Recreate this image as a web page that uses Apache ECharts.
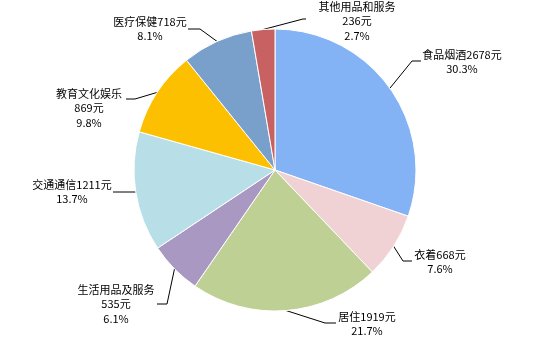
<!DOCTYPE html>
<html>
<head>
<meta charset="utf-8">
<script src="https://cdn.jsdelivr.net/npm/echarts@6/dist/echarts.min.js"></script>
<style>
  html, body { margin: 0; padding: 0; background: #fff; }
  #chart { width: 554px; height: 343px; }
</style>
</head>
<body>
<div id="chart"></div>
<script>
// Per-capita consumption spending by category (yuan)
const categories = ['食品烟酒', '衣着', '居住', '生活用品及服务', '交通通信', '教育文化娱乐', '医疗保健', '其他用品和服务'];
const amounts = [2678, 668, 1919, 535, 1211, 869, 718, 236];
const colors = ['#83b3f5', '#f0d2d4', '#bed093', '#a998c2', '#b8dfe7', '#fdc000', '#799fcb', '#c86262'];

// Whether the amount sits on the same line as the name
const nameInline = [true, true, true, false, true, false, true, false];

// Label placement: text centre, leader-line elbow and leader-line end (px)
const labelCentre = [[462, 62], [440, 262], [367, 324], [116, 304], [72, 192], [89, 108], [150, 29], [357, 21]];
const lineElbow = [[412, 61], [403, 261], [325, 323], [167, 304], [136, 192], [135, 99], [200, 29], [303, 19]];
const lineEnd = [[421, 61], [412, 261], [336, 323], [157, 304], [113, 192], [126, 99], [188, 29], [306, 19]];

const total = amounts.reduce((a, b) => a + b, 0);

const chart = echarts.init(document.getElementById('chart'), null, { renderer: 'canvas' });

chart.setOption({
  backgroundColor: '#fff',
  animation: false,
  series: [{
    type: 'pie',
    center: [275, 170],
    radius: 141,
    startAngle: 90,
    clockwise: true,
    avoidLabelOverlap: false,
    itemStyle: { borderColor: '#fff', borderWidth: 1 },
    label: {
      show: true,
      position: 'outside',
      color: '#000',
      fontFamily: '"Noto Sans CJK SC", sans-serif',
      fontSize: 11,
      lineHeight: 14.5,
      formatter: function (p) {
        const pct = (p.value / total * 100).toFixed(1) + '%';
        const sep = nameInline[p.dataIndex] ? '' : '\n';
        return p.name + sep + p.value + '元\n' + pct;
      }
    },
    labelLine: {
      show: true,
      length: 10,
      length2: 10,
      lineStyle: { color: '#000', width: 1 }
    },
    labelLayout: function (params) {
      const i = params.dataIndex;
      const start = params.labelLinePoints ? params.labelLinePoints[0] : lineElbow[i];
      return {
        x: labelCentre[i][0],
        y: labelCentre[i][1],
        align: 'center',
        verticalAlign: 'middle',
        labelLinePoints: [start, lineElbow[i], lineEnd[i]]
      };
    },
    data: categories.map((name, i) => ({
      name: name,
      value: amounts[i],
      itemStyle: { color: colors[i] }
    }))
  }]
});
</script>
</body>
</html>
